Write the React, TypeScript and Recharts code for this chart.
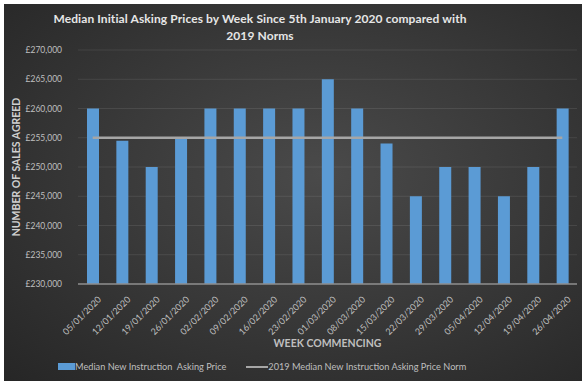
import {
  ComposedChart,
  Bar,
  Line,
  XAxis,
  YAxis,
  CartesianGrid,
} from "recharts";

const weeks = [
  "05/01/2020", "12/01/2020", "19/01/2020", "26/01/2020", "02/02/2020",
  "09/02/2020", "16/02/2020", "23/02/2020", "01/03/2020", "08/03/2020",
  "15/03/2020", "22/03/2020", "29/03/2020", "05/04/2020", "12/04/2020",
  "19/04/2020", "26/04/2020",
];
const askingPrice = [
  260000, 254500, 250000, 255000, 260000, 260000, 260000, 260000, 265000,
  260000, 254000, 245000, 250000, 250000, 245000, 250000, 260000,
];
const norm2019 = 255000;
const yTicks = [230000, 235000, 240000, 245000, 250000, 255000, 260000, 265000, 270000];

const data = weeks.map((week, i) => ({
  week,
  price: askingPrice[i],
  norm: norm2019,
}));

const FONT = "Lato, 'Open Sans', sans-serif";
const TXT = "#bfbfbf";
const BLUE = "#5b9bd5";
const GREY = "#a6a6a6";

const fmt = (v: number) => "£" + v.toLocaleString("en-GB");

const XTick = (props: any) => {
  const { x, y, payload } = props;
  return (
    <text
      x={x + 4}
      y={y + 3}
      transform={`rotate(-45 ${x + 4} ${y + 3})`}
      textAnchor="end"
      dominantBaseline="hanging"
      fill={TXT}
      fontSize={9}
      fontFamily={FONT}
    >
      {payload.value}
    </text>
  );
};

export default function App() {
  return (
    <div
      style={{
        position: "absolute",
        left: 0,
        top: 0,
        width: 587,
        height: 385,
        background: "#ffffff",
        fontFamily: FONT,
      }}
    >
      <div
        style={{
          position: "absolute",
          left: 4,
          top: 4,
          width: 578,
          height: 377,
          background:
            "radial-gradient(ellipse at 55% 45%, #4a4a4a 0%, #3a3a3a 45%, #262626 100%)",
        }}
      />
      <div
        style={{
          position: "absolute",
          left: 0,
          top: 10,
          width: 520,
          textAlign: "center",
          color: "#e6e6e6",
          fontWeight: 700,
          fontSize: 12,
          lineHeight: "17px",
          letterSpacing: 0.1,
          whiteSpace: "nowrap",
        }}
      >
        Median Initial Asking Prices by Week Since 5th January 2020 compared with
        <br />
        2019 Norms
      </div>
      <div style={{ position: "absolute", left: 0, top: 0 }}>
        <ComposedChart
          width={587}
          height={385}
          data={data}
          margin={{ top: 50, right: 10, left: 0, bottom: 36 }}
        >
          <CartesianGrid
            vertical={false}
            stroke="rgba(255,255,255,0.09)"
            strokeWidth={1}
          />
          <XAxis
            dataKey="week"
            height={65}
            interval={0}
            tickLine={false}
            axisLine={{ stroke: "#8c8c8c", strokeWidth: 1.5 }}
            tick={<XTick />}
            label={{
              value: "WEEK COMMENCING",
              position: "insideBottom",
              offset: 2,
              fill: TXT,
              fontSize: 10.5,
              fontWeight: 700,
              fontFamily: FONT,
            }}
          />
          <YAxis
            width={78}
            domain={[230000, 270000]}
            ticks={yTicks}
            tickFormatter={fmt}
            axisLine={false}
            tickLine={false}
            tick={{ fill: TXT, fontSize: 8.5, fontFamily: FONT }}
            tickMargin={10}
            label={{
              value: "NUMBER OF SALES AGREED",
              angle: -90,
              position: "insideLeft",
              offset: 16,
              style: { textAnchor: "middle" },
              fill: "#d0d0d0",
              fontSize: 10.5,
              fontWeight: 700,
              fontFamily: FONT,
            }}
          />
          <Bar dataKey="price" fill={BLUE} barSize={12} isAnimationActive={false} />
          <Line
            dataKey="norm"
            stroke={GREY}
            strokeWidth={2.5}
            dot={false}
            isAnimationActive={false}
          />
        </ComposedChart>
      </div>
      <div
        style={{
          position: "absolute",
          top: 361,
          left: 58,
          display: "flex",
          alignItems: "center",
          color: TXT,
          fontSize: 9.2,
          whiteSpace: "pre",
        }}
      >
        <span style={{ width: 17, height: 7, background: BLUE, display: "inline-block" }} />
        <span>Median New Instruction  Asking Price</span>
        <span
          style={{
            width: 22,
            height: 2,
            background: GREY,
            display: "inline-block",
            marginLeft: 20,
          }}
        />
        <span>2019 Median New Instruction Asking Price Norm</span>
      </div>
    </div>
  );
}
